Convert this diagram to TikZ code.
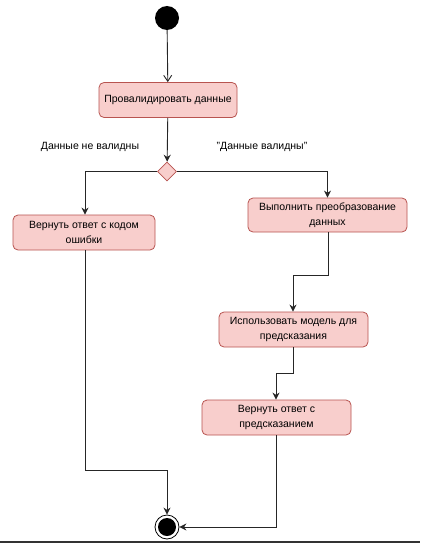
\documentclass[tikz,border=0pt]{standalone}
\usepackage{fontspec}
\setmainfont{Liberation Sans}
\usetikzlibrary{arrows.meta,shapes.geometric}
\definecolor{actfill}{HTML}{F8CECC}
\definecolor{actdraw}{HTML}{B85450}
\begin{document}
\begin{tikzpicture}[x=1pt,y=-1pt,
  action/.style={draw=actdraw,fill=actfill,rounded corners=5pt,line width=0.8pt,
    inner sep=0pt,align=center,font=\fontsize{10.5}{14.5}\selectfont},
  decision/.style={diamond,draw=actdraw,fill=actfill,line width=0.8pt,
    minimum width=19pt,minimum height=19pt,inner sep=0pt},
  flow/.style={draw=black!85,line width=0.9pt,-{Stealth[length=7pt,width=7pt]}},
  openflow/.style={draw=black!85,line width=0.9pt,-{Straight Barb[length=6pt,width=8pt]}},
  lbl/.style={font=\fontsize{10.5}{12}\selectfont,inner sep=0pt}]
\useasboundingbox (0,0) rectangle (420,543);
\fill[white] (0,0) rectangle (420,543);
\draw[black!80,line width=1.5pt] (0,542) -- (420,542);

% start and end states
\node[circle,fill=black,minimum size=24pt,inner sep=0pt] (start) at (167,18) {};
\node[circle,draw=black,line width=0.8pt,minimum size=24pt,inner sep=0pt] (stop) at (167,527) {};
\fill[black] (stop.center) circle (9pt);

% actions
\node[action,minimum width=138pt,minimum height=35pt] (validate) at (168,100) {Провалидировать данные};
\node[decision] (check) at (167,171.5) {};
\node[action,minimum width=142pt,minimum height=35pt] (error) at (84,232.5) {Вернуть ответ с кодом\\ошибки};
\node[action,minimum width=159pt,minimum height=34pt] (transform) at (327.5,215) {Выполнить преобразование\\данных};
\node[action,minimum width=149pt,minimum height=35pt] (predict) at (293.5,329.5) {Использовать модель для\\предсказания};
\node[action,minimum width=149pt,minimum height=35pt] (reply) at (276.5,417.5) {Вернуть ответ с\\предсказанием};

% guard labels
\node[lbl] (notvalid) at (90,147) {Данные не валидны};
\node[lbl] (valid) at (262,147) {"Данные валидны"};

% control flow
\draw[openflow] (start) -- (validate);
\draw[flow] (validate) -- (check);
\draw[flow] (check.west) -| (error.north -| 85,0);
\draw[flow] (check.east) -| (transform.north);
\coordinate (t1) at (328,275);
\draw[flow] (transform.south -| t1) -- (t1) -| (predict.north -| 293,0);
\coordinate (p1) at (293,373);
\draw[flow] (p1 |- predict.south) -- (p1) -| (reply.north -| 276,0);
\coordinate (e1) at (85,470);
\draw[flow] (e1 |- error.south) -- (e1) -| (stop.north);
\coordinate (r1) at (276,527);
\draw[flow] (r1 |- reply.south) -- (r1) -- (stop.east);
\end{tikzpicture}
\end{document}
